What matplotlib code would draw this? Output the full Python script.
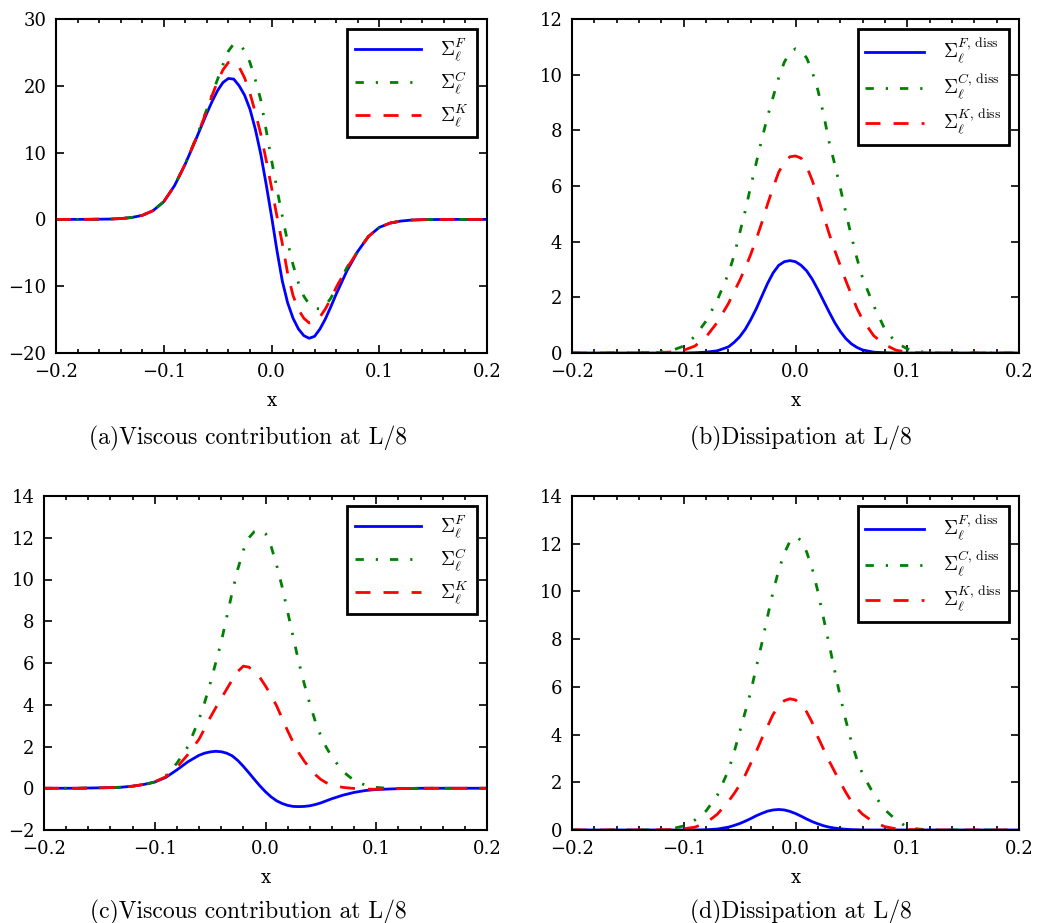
import matplotlib
matplotlib.use("Agg")
import matplotlib.pyplot as plt
import matplotlib.ticker as mticker

plt.rcParams['font.family'] = 'DejaVu Serif'
plt.rcParams['mathtext.fontset'] = 'cm'

# shared x grid
x = [-0.20, -0.17, -0.15, -0.14, -0.13, -0.12, -0.11, -0.10, -0.09, -0.08, -0.07, -0.06,
     -0.055, -0.05, -0.045, -0.04, -0.035, -0.03, -0.025, -0.02, -0.015, -0.01, -0.005,
     0.0, 0.005, 0.01, 0.015, 0.02, 0.025, 0.03, 0.035, 0.04, 0.045, 0.05, 0.055,
     0.06, 0.07, 0.08, 0.09, 0.10, 0.11, 0.12, 0.13, 0.14, 0.15, 0.17, 0.20]

# (a) viscous contribution
a_F = [0, 0.01, 0.05, 0.12, 0.28, 0.6, 1.3, 2.65, 5.05, 8.3, 12.05, 15.9,
       17.7, 19.3, 20.5, 21.1, 21.0, 20.0, 18.6, 16.5, 13.5, 9.8, 5.3,
       0.5, -4.6, -9.2, -12.5, -14.8, -16.4, -17.4, -17.8, -17.5, -16.4, -14.9, -13.1,
       -11.2, -7.7, -4.8, -2.55, -1.2, -0.55, -0.25, -0.1, -0.04, -0.02, 0, 0]
a_C = [0, 0.01, 0.05, 0.12, 0.28, 0.6, 1.3, 2.65, 5.05, 8.35, 12.2, 16.5,
       18.8, 21.0, 23.2, 25.2, 26.3, 26.2, 25.3, 23.5, 20.9, 17.9, 13.4,
       8.9, 4.6, 0.5, -3.4, -6.8, -9.5, -11.5, -12.7, -13.3, -13.4, -12.9, -11.8,
       -10.3, -7.2, -4.8, -2.55, -1.2, -0.55, -0.25, -0.1, -0.04, -0.02, 0, 0]
a_K = [0, 0.01, 0.05, 0.12, 0.28, 0.6, 1.3, 2.65, 5.05, 8.3, 12.1, 16.3,
       18.6, 20.7, 22.4, 23.5, 23.6, 22.8, 21.2, 18.9, 16.0, 12.8, 8.9,
       4.8, 0.5, -3.6, -8.1, -11.4, -13.5, -14.8, -15.5, -15.3, -14.6, -13.4, -11.9,
       -10.2, -7.3, -4.8, -2.55, -1.2, -0.55, -0.25, -0.1, -0.04, -0.02, 0, 0]

# (b) dissipation
b_F = [0, 0, 0, 0, 0, 0, 0, 0.0, 0.01, 0.03, 0.08, 0.22,
       0.38, 0.58, 0.85, 1.2, 1.6, 2.05, 2.5, 2.88, 3.15, 3.28, 3.32,
       3.28, 3.15, 2.95, 2.65, 2.28, 1.88, 1.48, 1.1, 0.78, 0.52, 0.33, 0.2,
       0.11, 0.03, 0.01, 0, 0, 0, 0, 0, 0, 0, 0, 0]
b_C = [0, 0, 0, 0.01, 0.02, 0.04, 0.1, 0.25, 0.6, 1.15, 1.9, 2.85,
       3.5, 4.3, 5.1, 6.0, 6.85, 7.7, 8.5, 9.2, 9.9, 10.45, 10.8,
       10.93, 10.85, 10.6, 10.1, 9.45, 8.6, 7.6, 6.8, 5.95, 5.05, 4.2, 3.4,
       2.7, 1.7, 0.85, 0.37, 0.15, 0.05, 0.02, 0, 0, 0, 0, 0]
b_K = [0, 0, 0, 0.0, 0.01, 0.02, 0.04, 0.1, 0.25, 0.58, 1.1, 1.78,
       2.2, 2.6, 3.05, 3.55, 4.1, 4.7, 5.35, 5.95, 6.5, 6.85, 7.05,
       7.08, 7.0, 6.7, 6.2, 5.6, 4.95, 4.3, 3.7, 3.15, 2.6, 2.1, 1.6,
       1.2, 0.62, 0.3, 0.1, 0.03, 0.01, 0, 0, 0, 0, 0, 0]

# (c) viscous contribution
c_F = [0, 0.0, 0.02, 0.03, 0.05, 0.1, 0.18, 0.3, 0.52, 0.88, 1.27, 1.58,
       1.68, 1.74, 1.77, 1.75, 1.68, 1.55, 1.33, 1.05, 0.74, 0.42, 0.11,
       -0.17, -0.41, -0.6, -0.73, -0.82, -0.87, -0.88, -0.87, -0.84, -0.78, -0.7, -0.6,
       -0.5, -0.33, -0.2, -0.11, -0.06, -0.04, -0.02, -0.01, 0, 0, 0, 0]
c_C = [0, 0.0, 0.02, 0.03, 0.05, 0.1, 0.16, 0.3, 0.6, 1.2, 2.0, 3.3,
       4.1, 5.0, 6.0, 7.0, 8.2, 9.4, 10.5, 11.4, 12.0, 12.3, 12.38,
       12.2, 11.6, 10.7, 9.65, 8.45, 7.25, 6.05, 5.0, 4.05, 3.2, 2.5, 1.95,
       1.5, 0.8, 0.37, 0.15, 0.04, 0.0, -0.01, -0.01, 0, 0, 0, 0]
c_K = [0, 0.0, 0.02, 0.03, 0.05, 0.1, 0.18, 0.31, 0.55, 1.0, 1.62, 2.35,
       2.85, 3.38, 3.85, 4.3, 4.75, 5.2, 5.6, 5.85, 5.8, 5.6, 5.3,
       4.9, 4.45, 3.95, 3.35, 2.75, 2.2, 1.7, 1.3, 0.95, 0.65, 0.42, 0.26,
       0.15, 0.04, -0.01, -0.04, -0.05, -0.04, -0.02, -0.01, 0, 0, 0, 0]

# (d) dissipation
d_F = [0, 0, 0, 0, 0, 0, 0, 0, 0.0, 0.01, 0.04, 0.12,
       0.19, 0.27, 0.37, 0.48, 0.6, 0.7, 0.79, 0.84, 0.86, 0.84, 0.78,
       0.69, 0.58, 0.46, 0.35, 0.26, 0.18, 0.12, 0.08, 0.05, 0.03, 0.015, 0.01,
       0.0, 0, 0, 0, 0, 0, 0, 0, 0, 0, 0, 0]
d_C = [0, 0, 0, 0.0, 0.01, 0.02, 0.06, 0.17, 0.42, 0.8, 1.45, 2.5,
       3.25, 4.1, 4.95, 5.8, 6.85, 7.85, 8.95, 10.0, 10.9, 11.6, 12.1,
       12.28, 12.15, 11.65, 10.95, 10.0, 8.9, 7.8, 6.7, 5.6, 4.6, 3.7, 2.95,
       2.35, 1.5, 0.85, 0.42, 0.12, 0.04, 0.01, 0, 0, 0, 0, 0]
d_K = [0, 0, 0, 0, 0.0, 0.01, 0.02, 0.05, 0.12, 0.3, 0.66, 1.2,
       1.52, 1.88, 2.3, 2.8, 3.3, 3.85, 4.35, 4.85, 5.2, 5.42, 5.5,
       5.45, 5.25, 4.95, 4.5, 3.9, 3.4, 2.9, 2.45, 2.0, 1.58, 1.2, 0.9,
       0.66, 0.33, 0.14, 0.05, 0.02, 0.01, 0, 0, 0, 0, 0, 0]

labels_visc = [r'$\Sigma_\ell^F$', r'$\Sigma_\ell^C$', r'$\Sigma_\ell^K$']
labels_diss = [r'$\Sigma_\ell^{F,\,\mathrm{diss}}$', r'$\Sigma_\ell^{C,\,\mathrm{diss}}$',
               r'$\Sigma_\ell^{K,\,\mathrm{diss}}$']
captions = ['(a)Viscous contribution at L/8', '(b)Dissipation at L/8',
            '(c)Viscous contribution at L/8', '(d)Dissipation at L/8']

W, H = 1039, 923
fig = plt.figure(figsize=(W / 100, H / 100), dpi=100)


def px_rect(l, t, r, b):
    return [l / W, 1 - b / H, (r - l) / W, (b - t) / H]


panels = [
    # rect (left, top, right, bottom px), series, labels, ylim, yticks, caption pos, handlelength
    ((56, 19, 487, 353), (a_F, a_C, a_K), labels_visc, (-20, 30), range(-20, 31, 10), (248, 438), 3.4),
    ((572, 19, 1019, 353), (b_F, b_C, b_K), labels_diss, (0, 12), range(0, 13, 2), (801, 438), 3.0),
    ((44, 496, 487, 830), (c_F, c_C, c_K), labels_visc, (-2, 14), range(-2, 15, 2), (248, 912), 3.4),
    ((572, 496, 1019, 830), (d_F, d_C, d_K), labels_diss, (0, 14), range(0, 15, 2), (801, 912), 3.0),
]

lw = 2.0
for i, (r, series, labels, ylim, yticks, cap, hl) in enumerate(panels):
    ax = fig.add_axes(px_rect(*r))
    ax.plot(x, series[0], color='b', lw=lw, label=labels[0])
    ax.plot(x, series[1], color='g', lw=lw, dashes=(3.0, 4.3, 0.8, 4.3), label=labels[1])
    ax.plot(x, series[2], color='r', lw=lw, dashes=(5.4, 4.7), label=labels[2])
    ax.set_xlim(-0.2, 0.2)
    ax.set_ylim(*ylim)
    ax.set_xticks([-0.2, -0.1, 0.0, 0.1, 0.2])
    ax.xaxis.set_minor_locator(mticker.MultipleLocator(0.02))
    ax.set_yticks(list(yticks))
    ax.tick_params(which='both', direction='in', top=True, right=True, width=1.2,
                   labelsize=13, pad=7)
    ax.tick_params(which='major', length=6)
    ax.tick_params(which='minor', length=3)
    for s in ax.spines.values():
        s.set_linewidth(1.5)
    ax.set_xlabel('x', fontsize=13, labelpad=8)
    leg = ax.legend(loc='upper right', fontsize=14, handlelength=hl, handletextpad=1.0,
                    labelspacing=0.3, borderaxespad=0.5, fancybox=False, framealpha=1)
    leg.get_frame().set_edgecolor('black')
    leg.get_frame().set_linewidth(2)
    fig.text(cap[0] / W, 1 - cap[1] / H, captions[i], family='cmr10', fontsize=17,
             ha='center', va='center')

fig.savefig('out.png', dpi=100)
